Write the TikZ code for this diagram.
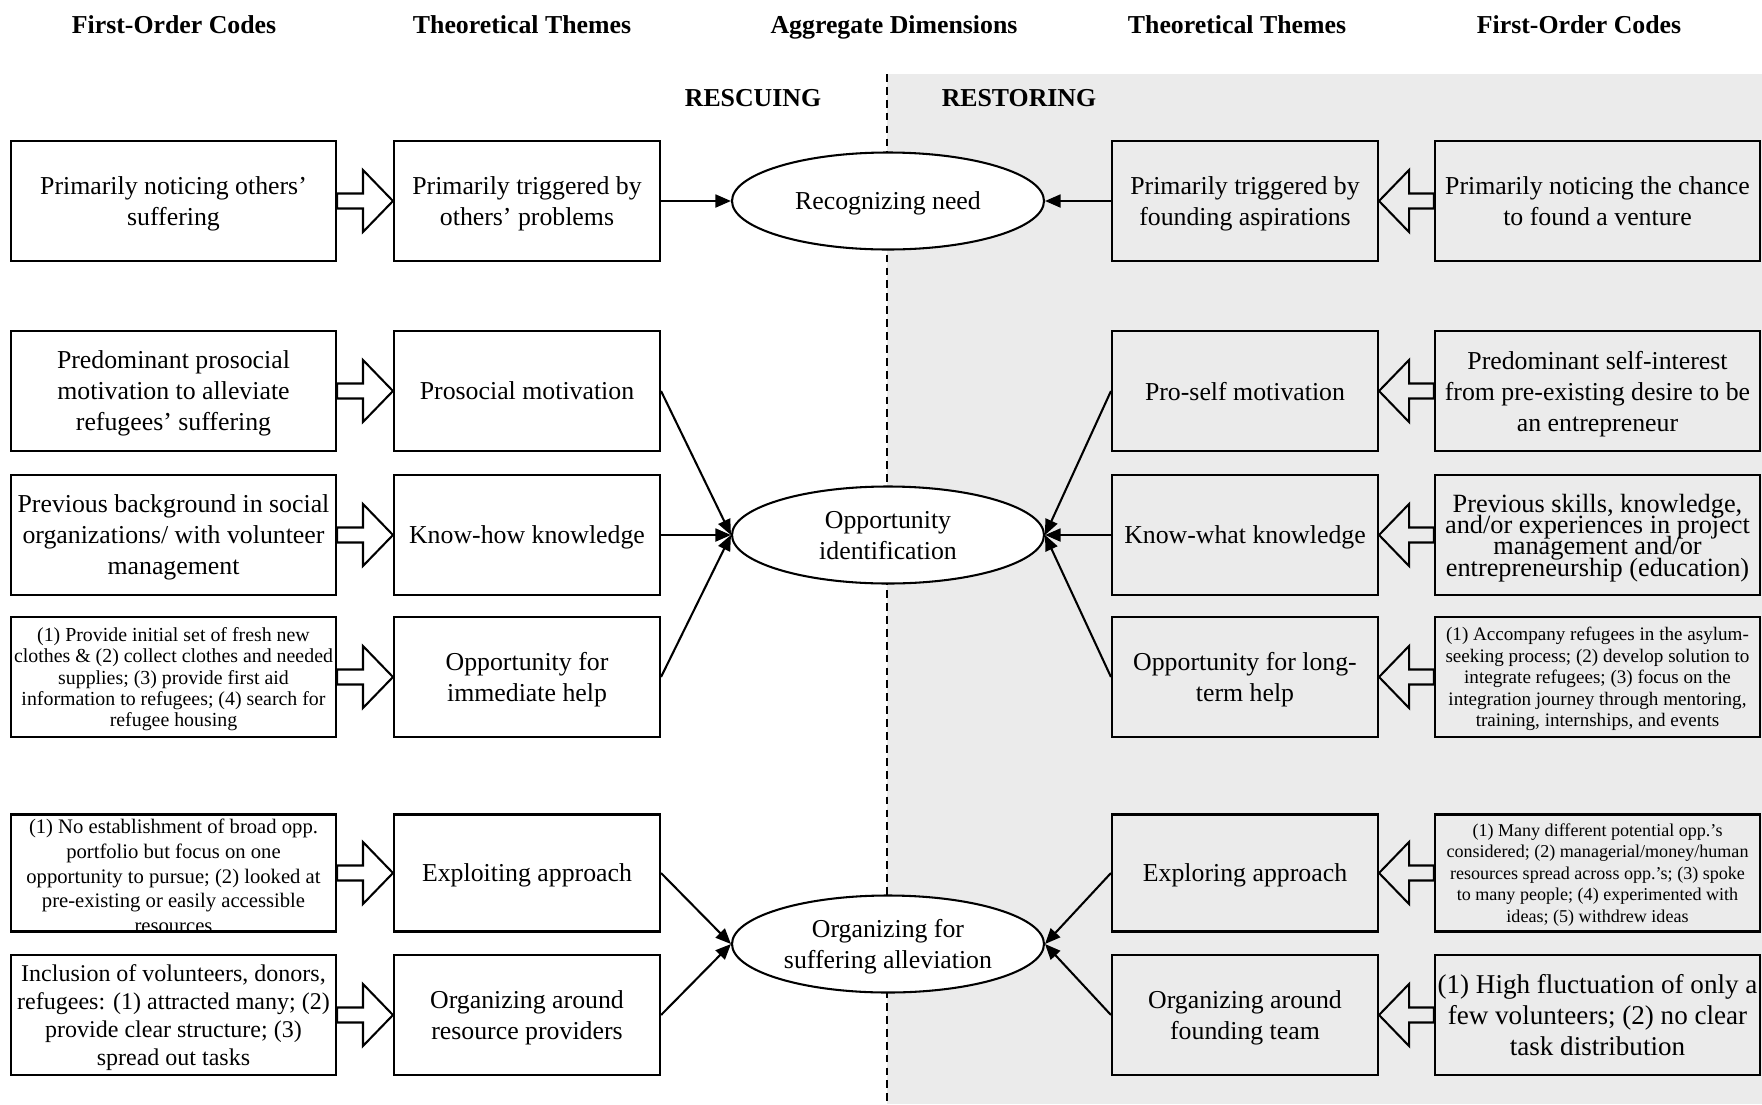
\documentclass[tikz,border=0pt]{standalone}
\usepackage{fontspec}
\setmainfont{Liberation Serif}
\usetikzlibrary{positioning,arrows.meta,calc,shapes.geometric}
\definecolor{restbg}{HTML}{EBEBEB}
\newdimen\px \px=0.3875pt

\begin{document}
\begin{tikzpicture}[
  x=0.3875pt, y=-0.3875pt,
  font=\fontsize{10}{12}\selectfont,
  colhead/.style={font=\bfseries\fontsize{10}{12}\selectfont, anchor=base},
  fobox/.style={draw, line width=0.8pt, minimum width=325\px, minimum height=120\px,
                inner sep=0pt, align=center, text depth=0pt},
  ttbox/.style={draw, line width=0.8pt, minimum width=266\px, minimum height=120\px,
                inner sep=0pt, align=center, text depth=0pt},
  dimnode/.style={ellipse, draw, line width=0.8pt, fill=white, minimum width=312\px,
                  minimum height=97\px, inner sep=0pt, align=center, text depth=0pt},
  arr/.style={-{Triangle[length=6pt,width=5pt]}, line width=0.8pt},
  blockarr/.style={draw, line width=0.8pt, line join=miter},
]
\def\xa{173.5} \def\xb{527} \def\xc{888} \def\xd{1245} \def\xe{1597.5}
\useasboundingbox (0,0) rectangle (1762,1104);

% ---------- Restoring side ----------
\fill[restbg] (887,74) rectangle (1762,1104);
\draw[line width=0.5pt, dash pattern=on 3pt off 2pt] (887,74) -- (887,1104);

% ---------- Column heads ----------
\node[colhead] (hd1) at (174,33) {First-Order Codes};
\node[colhead] (hd2) at (522,33) {Theoretical Themes};
\node[colhead] (hd3) at (894,33) {Aggregate Dimensions};
\node[colhead] (hd4) at (1237,33) {Theoretical Themes};
\node[colhead] (hd5) at (1579,33) {First-Order Codes};
\node[colhead] (rescue) at (753,106) {RESCUING};
\node[colhead] (restore) at (1019,106) {RESTORING};

% ---------- Aggregate dimensions ----------
\node[dimnode] (dim1) at (\xc,201) {Recognizing need};
\node[dimnode] (dim2) at (\xc,535) {Opportunity\\identification};
\node[dimnode] (dim3) at (\xc,944) {Organizing for\\suffering alleviation};

% ---------- Rescuing: first-order codes ----------
\node[fobox] (foL1) at (\xa,201) {Primarily noticing others’\\suffering};
\node[fobox] (foL2) at (\xa,391) {Predominant prosocial\\motivation to alleviate\\refugees’ suffering};
\node[fobox] (foL3) at (\xa,535) {Previous background in social\\organizations/ with volunteer\\management};
\node[fobox, font=\fontsize{7.7}{8.3}\selectfont] (foL4) at (\xa,677) {
  (1) Provide initial set of fresh new\\
  clothes \& (2) collect clothes and needed\\
  supplies; (3) provide first aid\\
  information to refugees; (4) search for\\
  refugee housing};
\node[fobox, minimum height=117\px] (foL5) at (\xa,873) {};
\node[font=\fontsize{8}{9.6}\selectfont, align=center, inner sep=0pt] (foL5text) at (\xa,876) {
  (1) No establishment of broad opp.\\
  portfolio but focus on one\\
  opportunity to pursue; (2) looked at\\
  pre-existing or easily accessible\\
  resources};
\node[fobox, font=\fontsize{9.3}{10.9}\selectfont] (foL6) at (\xa,1015) {
  Inclusion of volunteers, donors,\\
  refugees: (1) attracted many; (2)\\
  provide clear structure; (3)\\
  spread out tasks};

% ---------- Rescuing: themes ----------
\node[ttbox] (ttL1) at (\xb,201) {Primarily triggered by\\others’ problems};
\node[ttbox] (ttL2) at (\xb,391) {Prosocial motivation};
\node[ttbox] (ttL3) at (\xb,535) {Know-how knowledge};
\node[ttbox] (ttL4) at (\xb,677) {Opportunity for\\immediate help};
\node[ttbox, minimum height=117\px] (ttL5) at (\xb,873) {Exploiting approach};
\node[ttbox] (ttL6) at (\xb,1015) {Organizing around\\resource providers};

% ---------- Restoring: themes ----------
\node[ttbox] (ttR1) at (\xd,201) {Primarily triggered by\\founding aspirations};
\node[ttbox] (ttR2) at (\xd,391) {Pro-self motivation};
\node[ttbox] (ttR3) at (\xd,535) {Know-what knowledge};
\node[ttbox] (ttR4) at (\xd,677) {Opportunity for long-\\term help};
\node[ttbox, minimum height=117\px] (ttR5) at (\xd,873) {Exploring approach};
\node[ttbox] (ttR6) at (\xd,1015) {Organizing around\\founding team};

% ---------- Restoring: first-order codes ----------
\node[fobox] (foR1) at (\xe,201) {Primarily noticing the chance\\to found a venture};
\node[fobox] (foR2) at (\xe,391) {Predominant self-interest\\from pre-existing desire to be\\an entrepreneur};
\node[fobox, font={\fontsize{10.2}{8.3}\selectfont\lineskiplimit=-20pt\relax}] (foR3) at (\xe,535) {
  Previous skills, knowledge,\\
  and/or experiences in project\\
  management and/or\\
  entrepreneurship (education)};
\node[fobox, font=\fontsize{7.4}{8.3}\selectfont] (foR4) at (\xe,677) {
  (1) Accompany refugees in the asylum-\\
  seeking process; (2) develop solution to\\
  integrate refugees; (3) focus on the\\
  integration journey through mentoring,\\
  training, internships, and events};
\node[fobox, minimum height=117\px, font=\fontsize{7}{8.3}\selectfont] (foR5) at (\xe,873) {
  (1) Many different potential opp.’s\\
  considered; (2) managerial/money/human\\
  resources spread across opp.’s; (3) spoke\\
  to many people; (4) experimented with\\
  ideas; (5) withdrew ideas};
\node[fobox, font=\fontsize{10.5}{12}\selectfont] (foR6) at (\xe,1015) {
  (1) High fluctuation of only a\\
  few volunteers; (2) no clear\\
  task distribution};

% ---------- Hollow arrows: codes -> themes ----------
\draw[blockarr] (ttL1.west) -- ++(-30,-31) -- ++(0,23.5) -- ($(foL1.east)+(0,-7.5)$) -- ($(foL1.east)+(0,7.5)$) -- ($(ttL1.west)+(-30,7.5)$) -- ++(0,23.5) -- cycle;
\draw[blockarr] (ttL2.west) -- ++(-30,-31) -- ++(0,23.5) -- ($(foL2.east)+(0,-7.5)$) -- ($(foL2.east)+(0,7.5)$) -- ($(ttL2.west)+(-30,7.5)$) -- ++(0,23.5) -- cycle;
\draw[blockarr] (ttL3.west) -- ++(-30,-31) -- ++(0,23.5) -- ($(foL3.east)+(0,-7.5)$) -- ($(foL3.east)+(0,7.5)$) -- ($(ttL3.west)+(-30,7.5)$) -- ++(0,23.5) -- cycle;
\draw[blockarr] (ttL4.west) -- ++(-30,-31) -- ++(0,23.5) -- ($(foL4.east)+(0,-7.5)$) -- ($(foL4.east)+(0,7.5)$) -- ($(ttL4.west)+(-30,7.5)$) -- ++(0,23.5) -- cycle;
\draw[blockarr] (ttL5.west) -- ++(-30,-31) -- ++(0,23.5) -- ($(foL5.east)+(0,-7.5)$) -- ($(foL5.east)+(0,7.5)$) -- ($(ttL5.west)+(-30,7.5)$) -- ++(0,23.5) -- cycle;
\draw[blockarr] (ttL6.west) -- ++(-30,-31) -- ++(0,23.5) -- ($(foL6.east)+(0,-7.5)$) -- ($(foL6.east)+(0,7.5)$) -- ($(ttL6.west)+(-30,7.5)$) -- ++(0,23.5) -- cycle;

\draw[blockarr] (ttR1.east) -- ++(30,-31) -- ++(0,23.5) -- ($(foR1.west)+(0,-7.5)$) -- ($(foR1.west)+(0,7.5)$) -- ($(ttR1.east)+(30,7.5)$) -- ++(0,23.5) -- cycle;
\draw[blockarr] (ttR2.east) -- ++(30,-31) -- ++(0,23.5) -- ($(foR2.west)+(0,-7.5)$) -- ($(foR2.west)+(0,7.5)$) -- ($(ttR2.east)+(30,7.5)$) -- ++(0,23.5) -- cycle;
\draw[blockarr] (ttR3.east) -- ++(30,-31) -- ++(0,23.5) -- ($(foR3.west)+(0,-7.5)$) -- ($(foR3.west)+(0,7.5)$) -- ($(ttR3.east)+(30,7.5)$) -- ++(0,23.5) -- cycle;
\draw[blockarr] (ttR4.east) -- ++(30,-31) -- ++(0,23.5) -- ($(foR4.west)+(0,-7.5)$) -- ($(foR4.west)+(0,7.5)$) -- ($(ttR4.east)+(30,7.5)$) -- ++(0,23.5) -- cycle;
\draw[blockarr] (ttR5.east) -- ++(30,-31) -- ++(0,23.5) -- ($(foR5.west)+(0,-7.5)$) -- ($(foR5.west)+(0,7.5)$) -- ($(ttR5.east)+(30,7.5)$) -- ++(0,23.5) -- cycle;
\draw[blockarr] (ttR6.east) -- ++(30,-31) -- ++(0,23.5) -- ($(foR6.west)+(0,-7.5)$) -- ($(foR6.west)+(0,7.5)$) -- ($(ttR6.east)+(30,7.5)$) -- ++(0,23.5) -- cycle;

% ---------- Arrows: themes -> dimensions ----------
\draw[arr] (ttL1.east) -- (dim1.west);
\draw[arr] (ttL2.east) -- (dim2.west);
\draw[arr] (ttL3.east) -- (dim2.west);
\draw[arr] (ttL4.east) -- (dim2.west);
\draw[arr] (ttL5.east) -- (dim3.west);
\draw[arr] (ttL6.east) -- (dim3.west);
\draw[arr] (ttR1.west) -- (dim1.east);
\draw[arr] (ttR2.west) -- (dim2.east);
\draw[arr] (ttR3.west) -- (dim2.east);
\draw[arr] (ttR4.west) -- (dim2.east);
\draw[arr] (ttR5.west) -- (dim3.east);
\draw[arr] (ttR6.west) -- (dim3.east);
\end{tikzpicture}
\end{document}
